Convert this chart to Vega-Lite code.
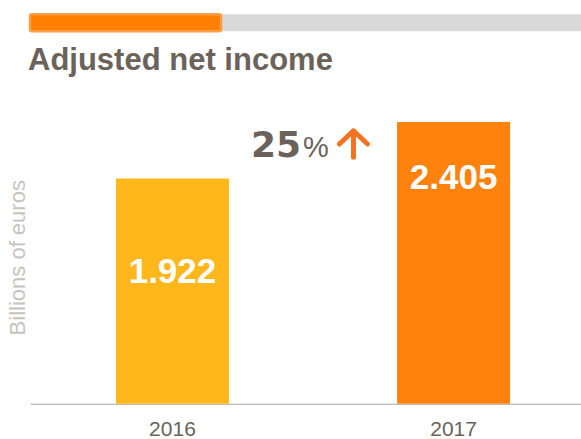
{
  "$schema": "https://vega.github.io/schema/vega-lite/v6.json",
  "background": "white",
  "padding": {"left": 6, "top": 12.25, "right": 0, "bottom": 0},
  "spacing": 11.5,
  "config": {"view": {"stroke": null}, "font": "Liberation Sans"},
  "vconcat": [
    {
      "width": 551,
      "height": 17,
      "data": {"values": [
        {"segment": "track", "start": 0, "end": 1},
        {"segment": "progress", "start": 0, "end": 0.347}
      ]},
      "layer": [
        {
          "transform": [{"filter": "datum.segment === 'track'"}],
          "mark": {"type": "rect", "fill": "#d9d9d9"},
          "encoding": {
            "x": {"field": "start", "type": "quantitative", "scale": {"domain": [0, 1]}, "axis": null},
            "x2": {"field": "end"}
          }
        },
        {
          "transform": [{"filter": "datum.segment === 'progress'"}],
          "mark": {"type": "rect", "fill": "#ff8000", "stroke": "#ff9e4a", "strokeWidth": 2.5, "cornerRadius": 2},
          "encoding": {
            "x": {"field": "start", "type": "quantitative", "scale": {"domain": [0, 1]}, "axis": null},
            "x2": {"field": "end"}
          }
        }
      ]
    },
    {
      "width": 551,
      "height": 293,
      "title": {
        "text": "Adjusted net income",
        "anchor": "start",
        "frame": "group",
        "offset": 10,
        "baseline": "alphabetic",
        "fontSize": 31,
        "font": "Liberation Sans",
        "fontWeight": "bold",
        "color": "#6b625a",
        "dx": -2
      },
      "data": {"values": [
        {"year": "2016", "value": 1.922},
        {"year": "2017", "value": 2.405}
      ]},
      "layer": [
        {
          "mark": {"type": "bar"},
          "encoding": {
            "x": {
              "field": "year",
              "type": "nominal",
              "scale": {"paddingInner": 0.598, "paddingOuter": 0.279, "align": 0.548},
              "axis": {
                "title": null,
                "labelAngle": 0,
                "ticks": false,
                "tickSize": 0,
                "labelPadding": 15,
                "labelBaseline": "top",
                "labelFontSize": 21,
                "labelColor": "#6b625a",
                "labelFont": "Liberation Sans",
                "domainColor": "#a6a6a6",
                "domainWidth": 1,
                "grid": false
              }
            },
            "y": {
              "field": "value",
              "type": "quantitative",
              "scale": {"domain": [0, 2.5], "nice": false, "zero": true},
              "axis": {
                "title": "Billions of euros",
                "labels": false,
                "ticks": false,
                "domain": false,
                "grid": false,
                "titlePadding": 1,
                "titleFontSize": 22,
                "titleColor": "#c9c3bd",
                "titleFont": "Liberation Sans",
                "titleFontWeight": "normal"
              }
            },
            "color": {
              "field": "year",
              "type": "nominal",
              "scale": {"range": ["#FFB71C", "#FF820D"]},
              "legend": null
            }
          }
        },
        {
          "transform": [{"filter": "datum.year === '2017'"}],
          "mark": {"type": "text", "dy": 67, "baseline": "alphabetic", "align": "center", "fontSize": 35, "fontWeight": "bold", "color": "white", "font": "Liberation Sans"},
          "encoding": {
            "x": {"field": "year", "type": "nominal"},
            "y": {"field": "value", "type": "quantitative"},
            "text": {"field": "value", "type": "quantitative", "format": ".3f"}
          }
        },
        {
          "transform": [{"filter": "datum.year === '2016'"}],
          "mark": {"type": "text", "dy": 105, "baseline": "alphabetic", "align": "center", "fontSize": 35, "fontWeight": "bold", "color": "white", "font": "Liberation Sans"},
          "encoding": {
            "x": {"field": "year", "type": "nominal"},
            "y": {"field": "value", "type": "quantitative"},
            "text": {"field": "value", "type": "quantitative", "format": ".3f"}
          }
        },
        {
          "data": {"values": [{"year": "2016", "change": 25}]},
          "mark": {"type": "text", "align": "left", "baseline": "alphabetic", "dx": 22, "fontSize": 36, "font": "DejaVu Sans", "fontWeight": "bold", "color": "#6b625a"},
          "encoding": {
            "x": {"field": "year", "type": "nominal", "bandPosition": 1},
            "y": {"datum": 2.108, "type": "quantitative"},
            "text": {"field": "change", "type": "quantitative"}
          }
        },
        {
          "data": {"values": [{"year": "2016", "unit": "%"}]},
          "mark": {"type": "text", "align": "left", "baseline": "alphabetic", "dx": 74, "fontSize": 29, "font": "Liberation Sans", "fontWeight": "normal", "color": "#6b625a"},
          "encoding": {
            "x": {"field": "year", "type": "nominal", "bandPosition": 1},
            "y": {"datum": 2.108, "type": "quantitative"},
            "text": {"field": "unit", "type": "nominal"}
          }
        },
        {
          "data": {"values": [{"year": "2016", "direction": "up"}]},
          "mark": {"type": "point", "shape": "M0,1L0,-1M-1.06,0L0,-1L1.06,0", "filled": false, "stroke": "#f37321", "strokeWidth": 5, "strokeCap": "round", "strokeJoin": "round", "size": 702, "xOffset": 124.5, "opacity": 1},
          "encoding": {
            "x": {"field": "year", "type": "nominal", "bandPosition": 1},
            "y": {"datum": 2.216, "type": "quantitative"}
          }
        }
      ]
    }
  ]
}
